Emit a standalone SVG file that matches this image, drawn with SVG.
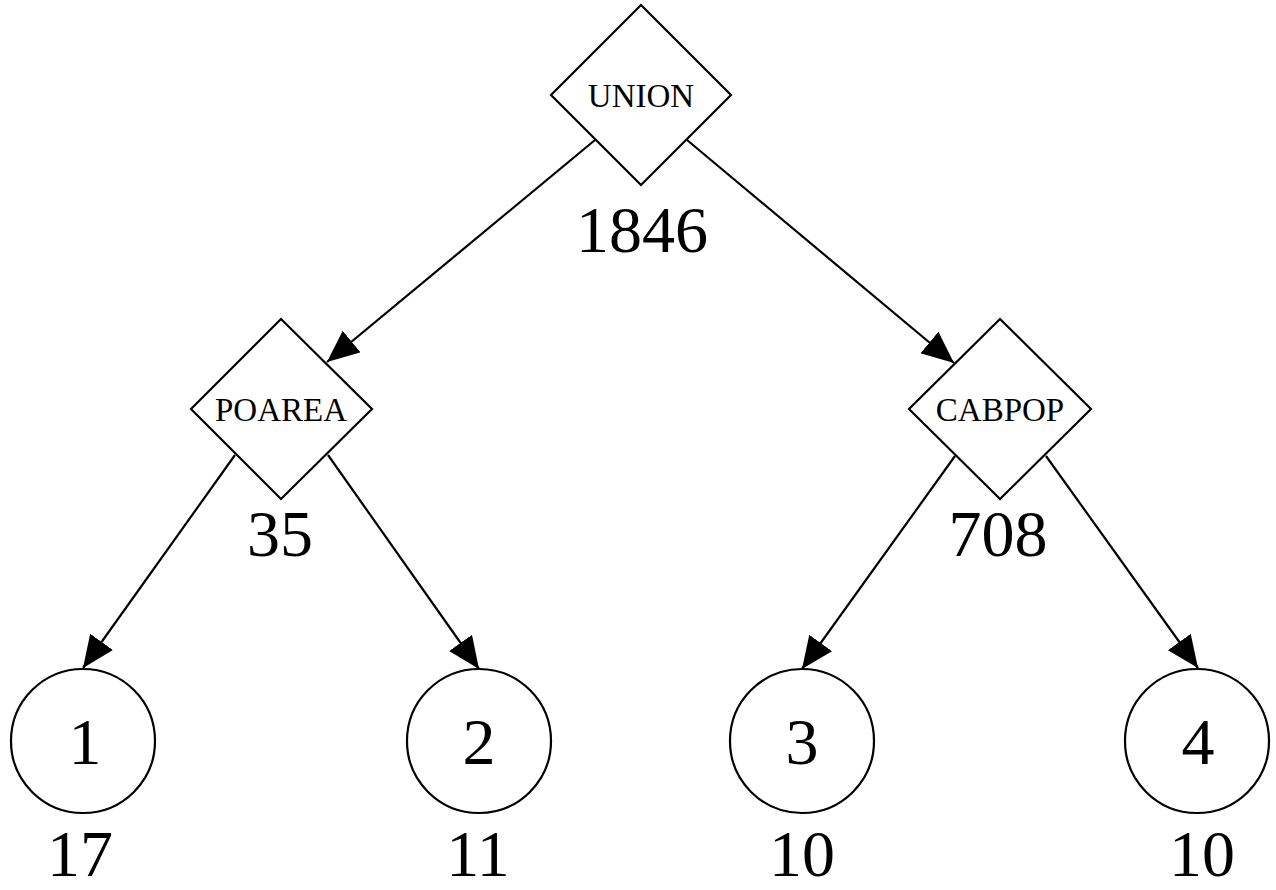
<svg xmlns="http://www.w3.org/2000/svg" width="1276" height="890" viewBox="0 0 1276 890">
<style>
.shape{fill:#fff;stroke:#000;stroke-width:2.2}
.lbl{font-family:"Liberation Serif","Times New Roman",serif;fill:#000;text-anchor:middle}
.small{font-size:33px}
.big{font-size:66px}
.edge{stroke:#000;stroke-width:2.2;fill:none;marker-end:url(#arr)}
</style>
<defs>
<marker id="arr" markerUnits="userSpaceOnUse" markerWidth="34" markerHeight="30" refX="32" refY="14" orient="auto" viewBox="0 0 34 30">
<path d="M0,0 L32,14 L0,28 Z" fill="#000"/>
</marker>
</defs>
<rect width="1276" height="890" fill="#fff"/>
<g id="edges">
<line class="edge" x1="595" y1="140" x2="327" y2="362"/>
<line class="edge" x1="687" y1="140" x2="954" y2="363"/>
<line class="edge" x1="235" y1="455" x2="83" y2="668"/>
<line class="edge" x1="328" y1="455" x2="479" y2="669"/>
<line class="edge" x1="955" y1="456" x2="802" y2="669"/>
<line class="edge" x1="1046" y1="456" x2="1198" y2="668"/>
</g>
<g id="union">
<polygon class="shape" points="641,5 731,95 641,185 551,95"/>
<text class="lbl small" x="641" y="107">UNION</text>
<text class="lbl big" x="642" y="252">1846</text>
</g>
<g id="poarea">
<polygon class="shape" points="281,319 372,409 281,499 191,409"/>
<text class="lbl small" x="281" y="421">POAREA</text>
<text class="lbl big" x="280" y="556">35</text>
</g>
<g id="cabpop">
<polygon class="shape" points="1000,319 1091,409 1000,499 909,409"/>
<text class="lbl small" x="1000" y="421">CABPOP</text>
<text class="lbl big" x="998" y="556">708</text>
</g>
<g id="leaf1">
<circle class="shape" cx="83" cy="741" r="72"/>
<text class="lbl big" x="85" y="764">1</text>
<text class="lbl big" x="80" y="876">17</text>
</g>
<g id="leaf2">
<circle class="shape" cx="479" cy="741" r="72"/>
<text class="lbl big" x="479" y="764">2</text>
<text class="lbl big" x="478" y="876">11</text>
</g>
<g id="leaf3">
<circle class="shape" cx="802" cy="741" r="72"/>
<text class="lbl big" x="802" y="764">3</text>
<text class="lbl big" x="802" y="876">10</text>
</g>
<g id="leaf4">
<circle class="shape" cx="1197" cy="741" r="72"/>
<text class="lbl big" x="1198" y="764">4</text>
<text class="lbl big" x="1202" y="876">10</text>
</g>
</svg>
